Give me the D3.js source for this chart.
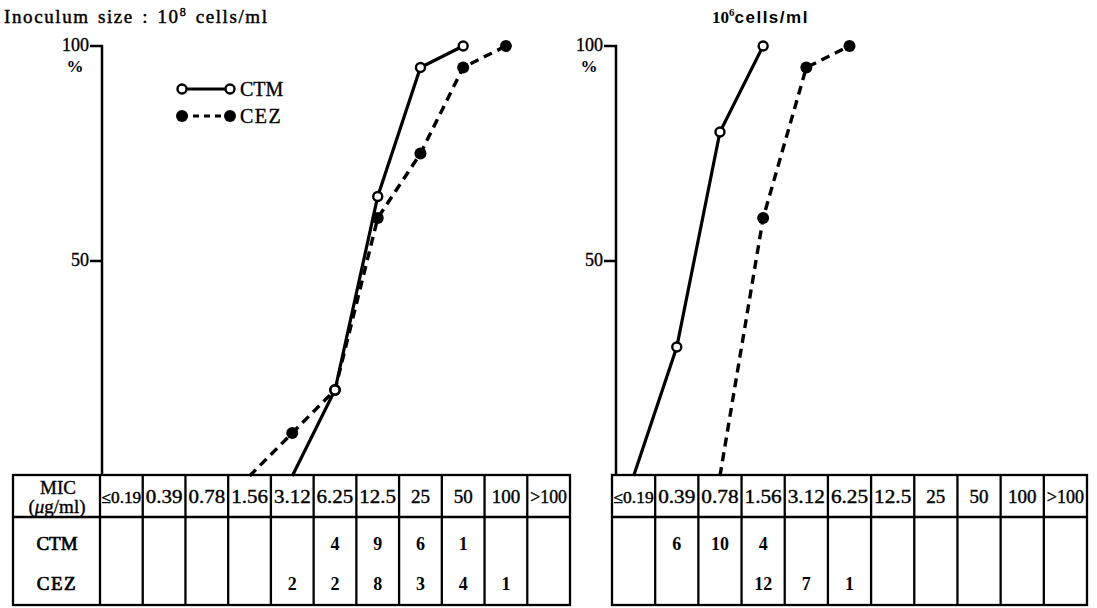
<!DOCTYPE html>
<html>
<head>
<meta charset="utf-8">
<script src="https://cdn.jsdelivr.net/npm/d3@7"></script>
<style>
  body { margin: 0; background: #fff; }
  text { font-family: "Liberation Serif", "DejaVu Serif", serif; fill: #000; }
</style>
</head>
<body>
<div id="chart"></div>
<script>
(function () {
    var width = 1097, height = 608;

    // MIC classes (ug/ml)
    var mics = ["≤0.19", "0.39", "0.78", "1.56", "3.12", "6.25", "12.5", "25", "50", "100", ">100"];

    // number of strains per MIC, inoculum 10^8 cells/ml
    var ctm8 = [0, 0, 0, 0, 0, 4, 9, 6, 1, 0, 0];
    var cez8 = [0, 0, 0, 0, 2, 2, 8, 3, 4, 1, 0];

    // inoculum 10^6 cells/ml
    var ctm6 = [0, 6, 10, 4, 0, 0, 0, 0, 0, 0, 0];
    var cez6 = [0, 0, 0, 12, 7, 1, 0, 0, 0, 0, 0];

    var yTicks = [100, 50];

    var svg = d3.select("#chart")
        .append("svg")
        .attr("width", width)
        .attr("height", height);

    var y = d3.scaleLinear().domain([0, 100]).range([476, 46]);

    var tableTop = 475, headBottom = 517, tableBottom = 605;

    // cumulative % curve: starts at the last empty class before the first strain
    function cumulative(counts) {
        var total = d3.sum(counts);
        var first = counts.findIndex(c => c > 0);
        var start = Math.max(0, first - 1);
        var pts = [], acc = 0;
        for (var i = start; i < counts.length; i++) {
            acc += counts[i];
            pts.push({ mic: mics[i], pct: acc / total * 100 });
            if (acc >= total) break;
        }
        return pts;
    }

    function panel(opt) {
        var x = d3.scaleBand().domain(mics).range([opt.x0, opt.x1]);
        var cx = d => x(d) + x.bandwidth() / 2;
        var g = svg.append("g");

        // y axis
        g.append("line")
            .attr("x1", opt.axisX).attr("x2", opt.axisX)
            .attr("y1", y(100) - 1).attr("y2", tableTop)
            .attr("stroke", "#000").attr("stroke-width", 2.5);
        yTicks.forEach(function (t) {
            g.append("line")
                .attr("x1", opt.axisX - 12).attr("x2", opt.axisX + 1)
                .attr("y1", y(t)).attr("y2", y(t))
                .attr("stroke", "#000").attr("stroke-width", 2.5);
            g.append("text")
                .attr("x", opt.axisX - 13).attr("y", y(t) + 5)
                .attr("text-anchor", "end")
                .attr("font-size", 18)
                .attr("stroke", "#000").attr("stroke-width", 0.35)
                .text(t);
        });
        g.append("text")
            .attr("x", opt.axisX - 27).attr("y", y(100) + 26)
            .attr("text-anchor", "middle")
            .attr("font-size", 17).attr("font-weight", "bold")
            .text("%");

        // curves
        var line = d3.line().x(d => cx(d.mic)).y(d => y(d.pct));
        var ctm = cumulative(opt.ctm), cez = cumulative(opt.cez);

        g.append("path").datum(cez)
            .attr("d", line)
            .attr("fill", "none").attr("stroke", "#000")
            .attr("stroke-width", 3.4)
            .attr("stroke-dasharray", "9,6");
        g.append("path").datum(ctm)
            .attr("d", line)
            .attr("fill", "none").attr("stroke", "#000")
            .attr("stroke-width", 3.2);

        g.selectAll(".cez-dot").data(cez.filter(d => d.pct > 0))
            .join("circle")
            .attr("cx", d => cx(d.mic)).attr("cy", d => y(d.pct))
            .attr("r", 6).attr("fill", "#000");
        g.selectAll(".ctm-dot").data(ctm.filter(d => d.pct > 0))
            .join("circle")
            .attr("cx", d => cx(d.mic)).attr("cy", d => y(d.pct))
            .attr("r", 4.5).attr("fill", "#fff")
            .attr("stroke", "#000").attr("stroke-width", 2.4);

        // table
        var t = g.append("g").attr("stroke", "#000").attr("stroke-width", 2.3).attr("fill", "none");
        t.append("rect")
            .attr("x", opt.tableX).attr("y", tableTop)
            .attr("width", opt.x1 - opt.tableX).attr("height", tableBottom - tableTop);
        t.append("line")
            .attr("x1", opt.tableX).attr("x2", opt.x1)
            .attr("y1", headBottom).attr("y2", headBottom);
        mics.forEach(function (m, i) {
            if (i === 0 && opt.tableX === opt.x0) return;
            t.append("line")
                .attr("x1", x(m)).attr("x2", x(m))
                .attr("y1", tableTop).attr("y2", tableBottom);
        });

        // header labels
        g.selectAll(".head").data(mics)
            .join("text")
            .attr("x", d => cx(d)).attr("y", 503)
            .attr("text-anchor", "middle")
            .attr("font-size", d => d.length > 4 ? 16 : 19)
            .attr("stroke", "#000").attr("stroke-width", 0.4)
            .attr("textLength", d => d.length > 4 ? x.bandwidth() - 3 : d.length > 3 ? x.bandwidth() - 6 : null)
            .attr("lengthAdjust", "spacingAndGlyphs")
            .text(d => d);

        // counts
        [[opt.ctm, 550], [opt.cez, 590]].forEach(function (row) {
            g.selectAll(null).data(mics.map((m, i) => ({ mic: m, n: row[0][i] })).filter(d => d.n > 0))
                .join("text")
                .attr("x", d => cx(d.mic)).attr("y", row[1])
                .attr("text-anchor", "middle")
                .attr("font-size", 18).attr("font-weight", "bold")
                .text(d => d.n);
        });
        return g;
    }

    panel({ ctm: ctm8, cez: cez8, x0: 100, x1: 570, tableX: 13, axisX: 102 });
    panel({ ctm: ctm6, cez: cez6, x0: 612, x1: 1087, tableX: 612, axisX: 616 });

    // row labels of the left table
    svg.append("text").attr("x", 58).attr("y", 494).attr("text-anchor", "middle")
        .attr("font-size", 19).attr("stroke", "#000").attr("stroke-width", 0.35).text("MIC");
    svg.append("text").attr("x", 57).attr("y", 513).attr("text-anchor", "middle")
        .attr("font-size", 19).attr("stroke", "#000").attr("stroke-width", 0.35)
        .html("(<tspan font-style='italic'>μ</tspan>g/ml)");
    svg.append("text").attr("x", 57).attr("y", 550).attr("text-anchor", "middle")
        .attr("font-size", 19).attr("stroke", "#000").attr("stroke-width", 0.7).text("CTM");
    svg.append("text").attr("x", 57).attr("y", 590).attr("text-anchor", "middle")
        .attr("font-size", 19).attr("stroke", "#000").attr("stroke-width", 0.7)
        .attr("letter-spacing", 1.5).text("CEZ");

    // titles
    var t1 = svg.append("text").attr("x", 4).attr("y", 23)
        .attr("font-size", 19).attr("letter-spacing", 1.6).attr("word-spacing", 2)
        .attr("stroke", "#000").attr("stroke-width", 0.45);
    t1.append("tspan").text("Inoculum size : 10");
    t1.append("tspan").attr("dy", -7).attr("font-size", 12).text("8");
    t1.append("tspan").attr("dy", 7).text(" cells/ml");

    var t2 = svg.append("text").attr("x", 712).attr("y", 23)
        .attr("font-size", 17).attr("font-weight", "bold");
    t2.append("tspan").text("10");
    t2.append("tspan").attr("dy", -7).attr("font-size", 11).text("6");
    t2.append("tspan").attr("dy", 7).attr("font-family", "Liberation Sans")
        .attr("letter-spacing", 1.5).text("cells/ml");

    // legend
    var lg = svg.append("g");
    lg.append("line").attr("x1", 182).attr("x2", 230).attr("y1", 89).attr("y2", 89)
        .attr("stroke", "#000").attr("stroke-width", 3.2);
    [182, 230].forEach(function (lx) {
        lg.append("circle").attr("cx", lx).attr("cy", 89).attr("r", 4.5)
            .attr("fill", "#fff").attr("stroke", "#000").attr("stroke-width", 2.4);
    });
    lg.append("line").attr("x1", 182).attr("x2", 230).attr("y1", 116).attr("y2", 116)
        .attr("stroke", "#000").attr("stroke-width", 3.2).attr("stroke-dasharray", "6,5");
    [182, 230].forEach(function (lx) {
        lg.append("circle").attr("cx", lx).attr("cy", 116).attr("r", 6).attr("fill", "#000");
    });
    lg.append("text").attr("x", 240).attr("y", 96).attr("font-size", 20)
        .attr("stroke", "#000").attr("stroke-width", 0.35).text("CTM");
    lg.append("text").attr("x", 240).attr("y", 123).attr("font-size", 20)
        .attr("stroke", "#000").attr("stroke-width", 0.35).attr("letter-spacing", 1.5).text("CEZ");
})();
</script>
</body>
</html>
